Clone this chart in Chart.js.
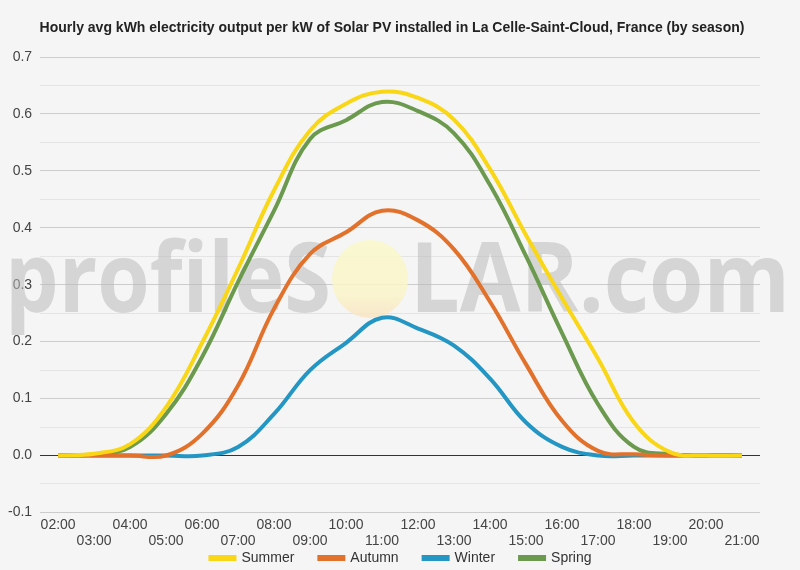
<!DOCTYPE html>
<html>
<head>
<meta charset="utf-8">
<script src="https://cdn.jsdelivr.net/npm/chart.js@4.4.1/dist/chart.umd.min.js"></script>
<style>
  html, body { margin: 0; padding: 0; background: #f5f5f5; }
  #wrap { width: 800px; height: 570px; }
</style>
</head>
<body>
<div id="wrap"><canvas id="Chart" width="800" height="570"></canvas></div>
<script>
// hours shown on the x axis
const hours = ['02:00','03:00','04:00','05:00','06:00','07:00','08:00','09:00','10:00','11:00',
               '12:00','13:00','14:00','15:00','16:00','17:00','18:00','19:00','20:00','21:00'];

// avg kWh per kW for each season
const summer = [0, 0.003, 0.02, 0.085, 0.198, 0.328, 0.466, 0.571, 0.618, 0.639,
                0.628, 0.59, 0.503, 0.387, 0.276, 0.17, 0.058, 0.006, 0, 0];
const autumn = [0, 0, 0, 0, 0.038, 0.123, 0.258, 0.354, 0.392, 0.43,
                0.413, 0.362, 0.27, 0.16, 0.061, 0.008, 0.002, 0, 0, 0];
const winter = [0, 0, 0, 0, 0, 0.015, 0.073, 0.15, 0.198, 0.242,
                0.223, 0.193, 0.135, 0.058, 0.015, 0, 0, 0, 0, 0];
const spring = [0, 0.002, 0.015, 0.073, 0.173, 0.305, 0.43, 0.556, 0.589, 0.621,
                0.605, 0.566, 0.475, 0.35, 0.215, 0.09, 0.015, 0.002, 0, 0];

const yMin = -0.1;
const yMax = 0.7;

const titleText = 'Hourly avg kWh electricity output per kW of Solar PV installed in La Celle-Saint-Cloud, France (by season)';
const baseFont = 'Arial, "Liberation Sans", sans-serif';

// profileSOLAR.com watermark behind the lines
const watermark = {
    id: 'watermark',
    beforeDatasetsDraw(chart) {
        const ctx = chart.ctx;
        ctx.save();
        ctx.font = '700 97px "Open Sans"';
        ctx.fillStyle = 'rgba(185,185,185,0.55)';
        ctx.textBaseline = 'alphabetic';
        ctx.textAlign = 'left';
        // squeeze each half into the room it has in the picture
        let w1 = ctx.measureText('profileS').width;
        ctx.save();
        ctx.translate(5, 312);
        ctx.scale(326 / w1, 1);
        ctx.fillText('profileS', 0, 0);
        ctx.restore();
        let w2 = ctx.measureText('LAR.com').width;
        ctx.save();
        ctx.translate(410, 312);
        ctx.scale(380 / w2, 1);
        ctx.fillText('LAR.com', 0, 0);
        ctx.restore();
        // the "O" is a pale sun
        let g = ctx.createLinearGradient(0, 240, 0, 317);
        g.addColorStop(0, 'rgba(250,248,200,0.85)');
        g.addColorStop(0.7, 'rgba(250,244,200,0.85)');
        g.addColorStop(1, 'rgba(248,228,195,0.85)');
        ctx.fillStyle = g;
        ctx.beginPath();
        ctx.ellipse(370, 279, 38, 39, 0, 0, Math.PI * 2);
        ctx.fill();
        ctx.restore();
    }
};

// title and legend drawn by hand so they sit where the picture has them
const titleAndLegend = {
    id: 'titleAndLegend',
    afterDraw(chart) {
        const ctx = chart.ctx;
        ctx.save();
        ctx.fillStyle = '#222';
        ctx.font = 'bold 14px ' + baseFont;
        ctx.textAlign = 'center';
        ctx.textBaseline = 'middle';
        ctx.fillText(titleText, 392, 28);

        ctx.font = '14px ' + baseFont;
        const items = chart.data.datasets.map(d => ({ label: d.label, color: d.borderColor,
                                                       w: ctx.measureText(d.label).width }));
        const box = 28, gapText = 5, gapItem = 23;
        let total = 0;
        items.forEach((it, i) => { total += box + gapText + it.w + (i ? gapItem : 0); });
        let x = 400 - total / 2;
        const y = 558;
        ctx.textAlign = 'left';
        items.forEach(it => {
            ctx.fillStyle = it.color;
            ctx.fillRect(x, y - 3, box, 6);
            ctx.fillStyle = '#333';
            ctx.fillText(it.label, x + box + gapText, y);
            x += box + gapText + it.w + gapItem;
        });
        ctx.restore();
    }
};

function line(label, data, color) {
    return {
        label: label,
        data: data,
        borderColor: color,
        backgroundColor: color,
        borderWidth: 4,
        pointRadius: 0,
        pointHoverRadius: 0,
        tension: 0.4,
        fill: false
    };
}

var chart = document.getElementById("Chart").getContext("2d");
const myChart = new Chart(chart, {
    type: 'line',
    data: {
        labels: hours,
        datasets: [
            line('Summer', summer, '#f9d616'),
            line('Autumn', autumn, '#e2712b'),
            line('Winter', winter, '#2496c4'),
            line('Spring', spring, '#6b9a4e')
        ]
    },
    options: {
        responsive: false,
        animation: false,
        layout: { padding: { left: 0, right: 40, top: 57, bottom: 16 } },
        plugins: {
            title: { display: false },
            legend: { display: false },
            tooltip: { enabled: false }
        },
        scales: {
            x: {
                offset: true,
                grid: { display: false, drawTicks: false },
                border: { display: false },
                ticks: {
                    autoSkip: false,
                    maxRotation: 0,
                    padding: 4,
                    color: '#444',
                    font: { family: baseFont, size: 14 },
                    callback: function(value, index) {
                        const lab = hours[index];
                        return index % 2 === 0 ? [lab, ''] : ['', lab];
                    }
                }
            },
            y: {
                min: yMin,
                max: yMax,
                border: { display: false },
                grid: {
                    drawTicks: false,
                    lineWidth: 1,
                    color: function(c) {
                        const v = Math.round(c.tick.value * 100);
                        if (v === 0) return '#333';
                        return v % 10 === 0 ? '#cccccc' : '#e4e4e4';
                    }
                },
                ticks: {
                    stepSize: 0.05,
                    padding: 8,
                    color: '#444',
                    font: { family: baseFont, size: 14 },
                    callback: function(value) {
                        const v = Math.round(value * 100);
                        return v % 10 === 0 ? (v / 100).toFixed(1) : '';
                    }
                }
            }
        }
    },
    plugins: [watermark, titleAndLegend]
});
</script>
</body>
</html>
